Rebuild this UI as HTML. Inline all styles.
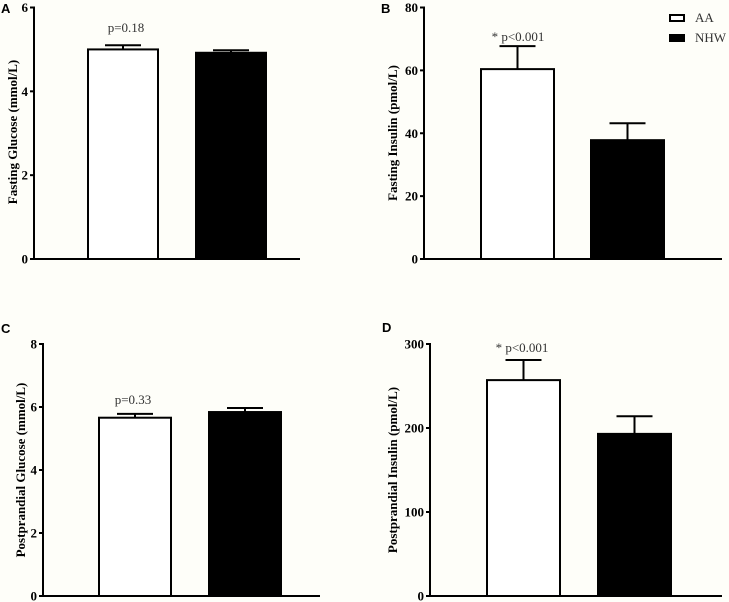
<!DOCTYPE html>
<html><head><meta charset="utf-8"><style>
html,body{margin:0;padding:0;background:#fefef9;}
svg{display:block;font-family:"Liberation Serif",serif;}
.tick{font-size:13px;font-weight:bold;}
.ytitle{font-size:13px;font-weight:bold;}
.plab{font-family:"Liberation Sans",sans-serif;font-weight:bold;font-size:13px;}
.ann{font-size:13px;fill:#333;}
</style></head><body>
<svg id="chart" width="729" height="602" viewBox="0 0 729 602"></svg>
<script>
const groups = ["AA", "NHW"];
const meansA = [5.0, 4.92];
const errsA = [0.1, 0.06];
const ticksA = [0, 2, 4, 6];
const meansB = [60.4, 37.8];
const errsB = [7.3, 5.4];
const ticksB = [0, 20, 40, 60, 80];
const meansC = [5.66, 5.84];
const errsC = [0.12, 0.13];
const ticksC = [0, 2, 4, 6, 8];
const meansD = [257, 193];
const errsD = [24, 21];
const ticksD = [0, 100, 200, 300];

const NS = "http://www.w3.org/2000/svg";
const svg = document.getElementById("chart");
function mk(tag, attrs, parent, text) {
  const e = document.createElementNS(NS, tag);
  for (const k in attrs) e.setAttribute(k, attrs[k]);
  if (text !== undefined) e.textContent = text;
  (parent || svg).appendChild(e);
  return e;
}

function panel(cfg) {
  const g = mk("g", {});
  
  
  const max = cfg.ticks[cfg.ticks.length - 1];
  const y = v => cfg.y0 - (v / max) * (cfg.y0 - cfg.yTop);
  const pl = mk("text", {x: cfg.lx, y: cfg.ly, class: "plab"}, g, cfg.letter);
  
  
  cfg.means.forEach((m, i) => {
    const bx = cfg.barX[i], bw = cfg.barW;
    const top = y(m), et = y(m + cfg.errs[i]);
    const cx = bx + bw / 2;
    const eb = mk("line", {x1: cx, x2: cx, y1: top, y2: et, stroke: "#000", "stroke-width": 2}, g);
    
    
    const ec = mk("line", {x1: cx - 18, x2: cx + 18, y1: et, y2: et, stroke: "#000", "stroke-width": 2}, g);
    
    
    const r = mk("rect", {x: bx, y: top, width: bw, height: cfg.y0 - top,
      fill: i === 0 ? "#fff" : "#000", stroke: "#000", "stroke-width": 2}, g);
    
    
  });
  const ya = mk("line", {x1: cfg.ax, x2: cfg.ax, y1: cfg.yTop - 1, y2: cfg.y0 + 1, stroke: "#000", "stroke-width": 2}, g);
  
  
  const xa = mk("line", {x1: cfg.ax - 1, x2: cfg.xEnd, y1: cfg.y0, y2: cfg.y0, stroke: "#000", "stroke-width": 2}, g);
  
  
  cfg.ticks.forEach(t => {
    const ty = y(t);
    const tl = mk("line", {x1: cfg.ax - 4, x2: cfg.ax, y1: ty, y2: ty, stroke: "#000", "stroke-width": 2}, g);
    
    
    const tt = mk("text", {x: cfg.ax - 6, y: ty + 4.5, "text-anchor": "end", class: "tick"}, g, t);
    
    
  });
  const yt = mk("text", {x: cfg.tx, y: cfg.ty, class: "ytitle", "text-anchor": "middle",
    transform: `rotate(-90 ${cfg.tx} ${cfg.ty})`}, g, cfg.title);
  
  
  const an = mk("text", {x: cfg.annX, y: cfg.annY, class: "ann", "text-anchor": "middle"}, g, cfg.ann);
  
  
}

panel({letter: "A", lx: 1, ly: 13, means: meansA, errs: errsA, ticks: ticksA, ax: 34, yTop: 7.5, y0: 259, xEnd: 300,
  barX: [88, 196], barW: 70, title: "Fasting Glucose (mmol/L)", tx: 17, ty: 132, ann: "p=0.18", annX: 126, annY: 32});
panel({letter: "B", lx: 381, ly: 13, means: meansB, errs: errsB, ticks: ticksB, ax: 424, yTop: 7.5, y0: 259, xEnd: 722,
  barX: [481, 591], barW: 73, title: "Fasting Insulin (pmol/L)", tx: 397, ty: 133, ann: "* p<0.001", annX: 518, annY: 41});
panel({letter: "C", lx: 1, ly: 333, means: meansC, errs: errsC, ticks: ticksC, ax: 43, yTop: 344, y0: 596, xEnd: 320,
  barX: [99, 209], barW: 72, title: "Postprandial Glucose (mmol/L)", tx: 25, ty: 470, ann: "p=0.33", annX: 133, annY: 404});
panel({letter: "D", lx: 382, ly: 332, means: meansD, errs: errsD, ticks: ticksD, ax: 430, yTop: 344, y0: 596, xEnd: 722,
  barX: [487, 598], barW: 73, title: "Postprandial Insulin (pmol/L)", tx: 397, ty: 470, ann: "* p<0.001", annX: 522, annY: 352});

const lg = mk("g", {});


groups.forEach((gname, i) => {
  const yy = 15 + i * 20;
  const sw = mk("rect", {x: 670, y: yy, width: 14, height: 6, fill: i === 0 ? "#fff" : "#000", stroke: "#000", "stroke-width": 2}, lg);
  
  
  const lt = mk("text", {x: 695, y: yy + 7, class: "ann"}, lg, gname);
  
  
});
</script>
</body></html>
